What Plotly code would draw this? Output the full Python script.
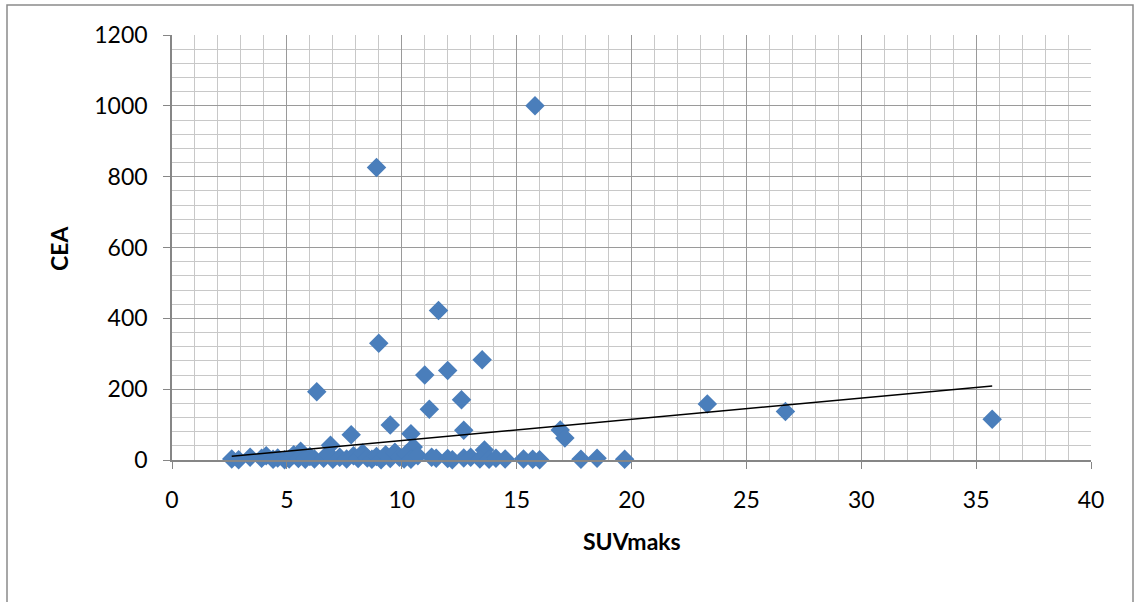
import plotly.graph_objects as go

# Scatter data (SUVmaks vs CEA)
suv = [15.8, 8.9, 11.6, 9.0, 13.5, 12.0, 11.0, 6.3, 12.6, 11.2, 23.3, 26.7, 35.7,
       9.5, 16.9, 12.7, 10.4, 7.8, 17.1, 6.9, 10.5, 13.6, 5.6,
       2.6, 2.9, 3.4, 3.9, 4.1, 4.4, 4.6, 4.9, 5.1, 5.3, 5.5, 5.8, 6.0, 6.2, 6.6,
       6.8, 7.0, 7.3, 7.6, 7.9, 8.1, 8.3, 8.5, 8.7, 8.9, 9.1, 9.3, 9.5, 9.7, 9.9,
       10.1, 10.2, 10.4, 10.7, 11.3, 11.5, 12.0, 12.2, 12.7, 13.0, 13.4, 13.8,
       14.1, 14.5, 15.3, 15.7, 16.0, 17.8, 18.5, 19.7]
cea = [1000, 826, 422, 330, 283, 253, 240, 193, 170, 143, 158, 137, 115,
       99, 85, 84, 74, 71, 62, 42, 37, 28, 25,
       3, 1, 8, 5, 12, 2, 6, 1, 3, 15, 4, 2, 10, 3, 5,
       18, 2, 8, 3, 12, 4, 20, 6, 2, 10, 1, 15, 4, 22, 8,
       3, 18, 2, 12, 8, 5, 4, 1, 6, 8, 3, 2,
       5, 3, 3, 2, 1, 2, 5, 2]

# Linear trendline parameters
trend_slope = 6.0
trend_intercept = -5.0

x_ticks = [0, 5, 10, 15, 20, 25, 30, 35, 40]
y_ticks = [0, 200, 400, 600, 800, 1000, 1200]

xmin, xmax = min(suv), max(suv)
trend_x = [xmin, xmax]
trend_y = [trend_intercept + trend_slope * v for v in trend_x]

fig = go.Figure()
fig.add_trace(go.Scatter(
    x=suv, y=cea, mode="markers",
    marker=dict(symbol="diamond", size=15, color="rgb(74,126,187)",
                line=dict(width=0)),
    showlegend=False, cliponaxis=False))
fig.add_trace(go.Scatter(
    x=trend_x, y=trend_y, mode="lines",
    line=dict(color="black", width=1.5), showlegend=False))

font_family = "Lato, 'Open Sans', sans-serif"

fig.update_layout(
    width=1135, height=602,
    margin=dict(l=172, r=44, t=35, b=142),
    paper_bgcolor="white", plot_bgcolor="white",
    font=dict(family=font_family, color="black"),
    xaxis=dict(range=[0, 40], tickvals=x_ticks, ticktext=[str(v) for v in x_ticks],
               showgrid=True, gridcolor="#9a9a9a", gridwidth=1.4,
               minor=dict(dtick=1, showgrid=True, gridcolor="#c8c8c8", gridwidth=1.4,
                          ticks=""),
               showline=True, linecolor="#868686", linewidth=1.5,
               ticks="outside", ticklen=7, tickcolor="#868686",
               tickfont=dict(size=23, family=font_family),
               ticklabelstandoff=12, zeroline=False),
    yaxis=dict(range=[0, 1200], tickvals=y_ticks, ticktext=[str(v) for v in y_ticks],
               showgrid=True, gridcolor="#9a9a9a", gridwidth=1.4,
               minor=dict(dtick=40, showgrid=True, gridcolor="#c8c8c8", gridwidth=1.4,
                          ticks=""),
               showline=True, linecolor="#868686", linewidth=1.5,
               ticks="outside", ticklen=7, tickcolor="#868686",
               tickfont=dict(size=23, family=font_family),
               ticklabelstandoff=11, zeroline=False),
    annotations=[
        dict(text="<b>SUVmaks</b>", x=(632 - 172) / 919, y=(460 - 557) / 425,
             xref="paper", yref="paper",
             showarrow=False, font=dict(size=23, family=font_family)),
        dict(text="<b>CEA</b>", x=(43 - 172) / 919, y=(460 - 249) / 425,
             xref="paper", yref="paper",
             showarrow=False, textangle=-90, font=dict(size=23, family=font_family)),
    ],
    shapes=[
        dict(type="rect", xref="paper", yref="paper",
             x0=(7 - 172) / 919, x1=(1133 - 172) / 919,
             y0=(460 - 640) / 425, y1=(460 - 5) / 425,
             line=dict(color="#8a8a8a", width=1.5), fillcolor="rgba(0,0,0,0)"),
    ],
)

fig.write_html("out.html")
